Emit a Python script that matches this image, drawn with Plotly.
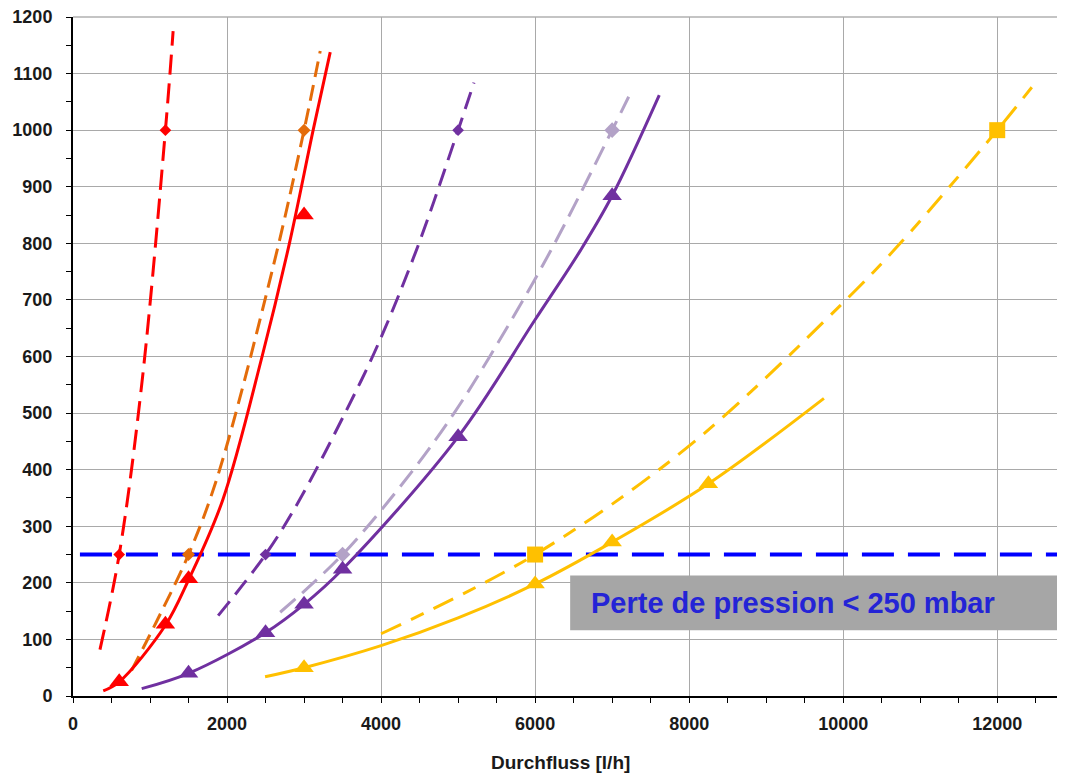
import plotly.graph_objects as go

# ---------------- data ----------------
# pressure-loss limit line
limit_x = [90, 12880]
limit_y = [250, 250]

# series 1: red dashed with small diamonds
red_dash_curve_x = [350, 600, 900, 1200, 1300]
red_dash_curve_y = [82, 250, 560, 1000, 1175]
red_dash_pts_x = [600, 1200]
red_dash_pts_y = [250, 1000]

# series 2: orange dashed with diamonds
orange_curve_x = [760, 1090, 1500, 1870, 2610, 3000, 3210]
orange_curve_y = [45, 133, 250, 385, 765, 1000, 1140]
orange_pts_x = [1500, 3000]
orange_pts_y = [250, 1000]

# series 3: red solid with triangles
red_curve_x = [393, 600, 1200, 1500, 1943, 2455, 2810, 3118, 3340]
red_curve_y = [9, 25, 125, 205, 346, 600, 800, 1000, 1138]
red_pts_x = [600, 1200, 1500, 3000]
red_pts_y = [25, 127, 207, 850]

# series 4: purple dashed with small diamonds
purple_dash_curve_x = [1885, 2500, 2935, 3532, 3956, 4478, 5000, 5206]
purple_dash_curve_y = [142, 250, 345, 500, 620, 795, 1000, 1084]
purple_dash_pts_x = [2500, 5000]
purple_dash_pts_y = [250, 1000]

# series 5: light purple dashed with diamonds
lilac_curve_x = [2690, 3500, 4403, 4948, 5398, 6195, 7000, 7215]
lilac_curve_y = [148, 250, 397, 500, 597, 785, 1000, 1059]
lilac_pts_x = [3500, 7000]
lilac_pts_y = [250, 1000]

# series 6: purple solid with triangles
purple_curve_x = [892, 1500, 2500, 3000, 3500, 5000, 5995, 6591, 7000, 7612]
purple_curve_y = [13, 40, 112, 162, 224, 458, 664, 788, 884, 1062]
purple_pts_x = [1500, 2500, 3000, 3500, 5000, 7000]
purple_pts_y = [40, 112, 162, 224, 458, 884]

# series 7: yellow solid with triangles
yellow_curve_x = [2494, 3000, 4000, 5000, 6000, 7000, 8250, 9750]
yellow_curve_y = [34, 50, 89, 138, 198, 272, 375, 526]
yellow_pts_x = [3000, 6000, 7000, 8250]
yellow_pts_y = [50, 198, 272, 375]

# series 8: yellow dashed with squares
yellow_dash_curve_x = [4000, 6000, 8000, 9961, 10740, 12000, 12490]
yellow_dash_curve_y = [110, 250, 442, 690, 800, 1000, 1083]
yellow_dash_pts_x = [6000, 12000]
yellow_dash_pts_y = [250, 1000]

x_tickvals = [0, 2000, 4000, 6000, 8000, 10000, 12000]
y_tickvals = list(range(0, 1300, 100))

note_text = "Perte de pression < 250 mbar"
x_title = "Durchfluss [l/h]"

# ---------------- colours ----------------
RED = "#ff0000"
ORANGE = "#e46c0a"
PURPLE = "#7030a0"
LILAC = "#b3a2c7"
YELLOW = "#ffc000"
BLUE = "#0000ff"

fig = go.Figure()

fig.add_trace(go.Scatter(x=limit_x, y=limit_y, mode="lines",
                         line=dict(color=BLUE, width=4, dash="32px,14px")))


def curve(x, y, color, dash, width=3):
    fig.add_trace(go.Scatter(x=x, y=y, mode="lines",
                             line=dict(color=color, width=width, dash=dash,
                                       shape="spline", smoothing=1.0)))


def marks(x, y, color, symbol, size):
    fig.add_trace(go.Scatter(x=x, y=y, mode="markers",
                             marker=dict(color=color, symbol=symbol, size=size,
                                         line=dict(width=0))))


curve(red_dash_curve_x, red_dash_curve_y, RED, "20px,9px")
marks(red_dash_pts_x, red_dash_pts_y, RED, "diamond", 9)

curve(orange_curve_x, orange_curve_y, ORANGE, "16px,8px")
marks(orange_pts_x, orange_pts_y, ORANGE, "diamond", 10)

curve(red_curve_x, red_curve_y, RED, "solid")
marks(red_pts_x, red_pts_y, RED, "triangle-up", 17)

curve(purple_dash_curve_x, purple_dash_curve_y, PURPLE, "18px,9px")
marks(purple_dash_pts_x, purple_dash_pts_y, PURPLE, "diamond", 9)

curve(lilac_curve_x, lilac_curve_y, LILAC, "20px,9px")
marks(lilac_pts_x, lilac_pts_y, LILAC, "diamond", 12)

curve(purple_curve_x, purple_curve_y, PURPLE, "solid")
marks(purple_pts_x, purple_pts_y, PURPLE, "triangle-up", 17)

curve(yellow_dash_curve_x, yellow_dash_curve_y, YELLOW, "22px,11px,14px,11px")
marks(yellow_dash_pts_x, yellow_dash_pts_y, YELLOW, "square", 16)

curve(yellow_curve_x, yellow_curve_y, YELLOW, "solid")
marks(yellow_pts_x, yellow_pts_y, YELLOW, "triangle-up", 17)

FONT = "Liberation Sans, Arial, sans-serif"
TICKFONT = dict(family=FONT, size=18, color="#1a1a1a", weight="bold")

fig.update_layout(
    width=1057, height=766,
    margin=dict(l=65, r=0, t=9, b=78),
    paper_bgcolor="white", plot_bgcolor="white",
    showlegend=False,
    xaxis=dict(
        range=[0, 12880], tickvals=x_tickvals, ticktext=[str(v) for v in x_tickvals],
        showgrid=True, gridcolor="#a9a9a9", gridwidth=1,
        showline=True, linecolor="#000000", linewidth=2,
        ticks="outside", ticklen=5, tickcolor="#000000", tickwidth=1,
        minor=dict(dtick=500, tick0=0, ticks="outside", ticklen=5,
                   tickcolor="#000000", showgrid=False),
        tickfont=TICKFONT, zeroline=False,
        ticklabelstandoff=5, ticklabeloverflow="allow",
    ),
    yaxis=dict(
        range=[0, 1200], tickvals=y_tickvals, ticktext=[str(v) for v in y_tickvals],
        showgrid=True, gridcolor="#a9a9a9", gridwidth=1,
        showline=True, linecolor="#000000", linewidth=2,
        ticks="outside", ticklen=5, tickcolor="#000000", tickwidth=1,
        minor=dict(dtick=50, tick0=0, ticks="outside", ticklen=5,
                   tickcolor="#000000", showgrid=False),
        tickfont=TICKFONT, zeroline=False,
        ticklabelstandoff=10, ticklabeloverflow="allow",
    ),
)

# top border (light grey) of the plot area
fig.add_shape(type="line", xref="paper", yref="paper", x0=0, x1=1, y0=1, y1=1,
              line=dict(color="#c4c4c4", width=2), layer="below")

# x-axis title placed as an annotation (centred slightly left of the plot centre)
fig.add_annotation(x=6330, y=0, xref="x", yref="paper", text=x_title,
                   showarrow=False, xanchor="center", yanchor="middle", yshift=-66,
                   font=dict(family=FONT, size=19, color="#1a1a1a", weight="bold"))

# grey note box
fig.add_shape(type="rect", xref="x", yref="y", x0=6455, x1=12880, y0=116, y1=213,
              fillcolor="#a6a6a6", line=dict(width=0), layer="above")
fig.add_annotation(x=6700, y=164.5, xref="x", yref="y", text=note_text,
                   showarrow=False, xanchor="left", yanchor="middle",
                   font=dict(family=FONT, size=29, color="#2424d6", weight="bold"))

fig.write_html("out.html")
